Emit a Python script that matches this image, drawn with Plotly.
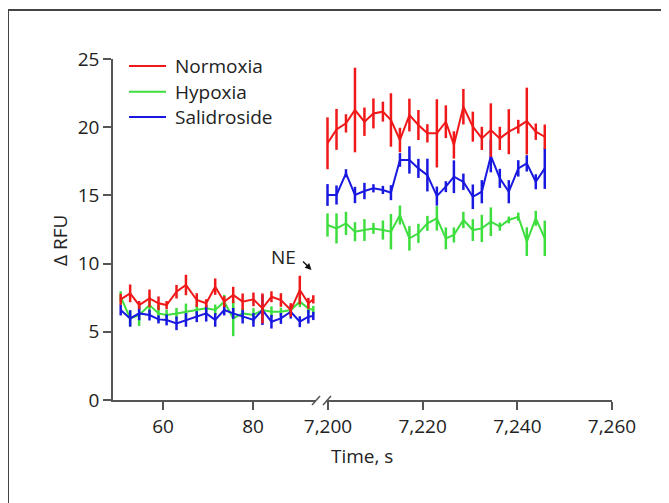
import plotly.graph_objects as go

W, H = 669, 503
OFF = 8  # page body margin

# ---------------- data ----------------
t_early = [50.6, 52.7, 54.7, 57.0, 59.0, 60.8, 63.0, 65.1, 67.5, 69.6, 71.6,
           73.6, 75.6, 77.7, 80.1, 82.1, 84.1, 86.2, 88.4, 90.4, 92.3, 93.4]
t_late = [7199.9, 7201.8, 7203.8, 7205.7, 7207.7, 7209.6, 7211.6, 7213.3, 7215.2,
          7217.2, 7219.1, 7221.0, 7223.0, 7224.9, 7226.6, 7228.6, 7230.6, 7232.5,
          7234.4, 7236.3, 7238.2, 7240.2, 7242.0, 7243.9, 7245.8]

normoxia_early = [7.38, 7.82, 6.96, 7.45, 7.09, 6.96, 7.94, 8.43, 7.33, 7.09, 8.31,
                  7.21, 7.70, 7.21, 7.38, 6.72, 7.57, 7.33, 6.60, 8.06, 7.09, 7.38]
normoxia_early_err = [0.4, 0.65, 0.3, 0.65, 0.5, 0.3, 0.5, 0.75, 0.5, 0.3, 0.6,
                      0.4, 0.6, 0.6, 0.5, 1.1, 0.4, 0.5, 0.5, 1.05, 0.4, 0.3]
hypoxia_early = [7.57, 5.98, 6.23, 6.96, 6.35, 6.23, 6.35, 6.47, 6.60, 6.72, 6.60,
                 7.21, 5.98, 6.35, 6.23, 6.60, 6.47, 6.47, 6.60, 7.21, 6.72, 6.60]
hypoxia_early_err = [0.4, 0.6, 0.8, 0.6, 0.6, 0.4, 0.4, 0.6, 0.4, 0.3, 0.4,
                     0.5, 1.3, 0.4, 0.5, 0.4, 0.4, 0.3, 0.3, 0.4, 0.4, 0.3]
salidroside_early = [6.60, 5.98, 6.35, 6.23, 5.91, 5.87, 5.62, 5.87, 6.11, 6.35, 5.87,
                     6.60, 6.35, 6.11, 5.87, 6.60, 5.74, 5.98, 6.47, 5.74, 6.11, 6.16]
salidroside_early_err = [0.4, 0.6, 0.5, 0.4, 0.3, 0.4, 0.5, 0.5, 0.4, 0.6, 0.5,
                         0.4, 0.4, 0.5, 0.5, 1.1, 0.5, 0.4, 0.5, 0.4, 0.5, 0.3]

normoxia_late = [18.82, 19.84, 20.28, 21.26, 20.40, 21.01, 21.14, 20.53, 19.06, 20.89,
                 20.16, 19.55, 19.55, 20.40, 18.70, 21.50, 20.04, 19.18, 19.79, 19.18,
                 19.67, 20.04, 20.45, 19.67, 19.30]
normoxia_late_err = [1.9, 1.5, 0.67, 3.1, 1.04, 1.1, 0.73, 1.96, 0.9, 1.2, 1.1, 0.67,
                     2.5, 1.2, 1.0, 1.3, 1.1, 0.85, 1.96, 0.85, 1.65, 0.5, 2.45, 0.6, 0.9]
hypoxia_late = [12.83, 12.58, 12.95, 12.34, 12.46, 12.58, 12.46, 12.34, 13.56, 11.85,
                12.22, 12.95, 13.32, 11.85, 12.10, 13.20, 12.46, 12.58, 13.07, 12.71,
                13.20, 13.44, 11.61, 13.32, 11.85]
hypoxia_late_err = [0.85, 1.1, 0.85, 0.7, 0.8, 0.4, 0.7, 1.3, 0.7, 0.9, 0.7, 0.55,
                    0.9, 0.8, 0.55, 0.6, 0.8, 1.0, 1.05, 0.3, 0.25, 0.3, 1.05, 0.55, 1.3]
salidroside_late = [15.03, 15.03, 16.62, 15.03, 15.32, 15.52, 15.40, 15.20, 17.60, 17.60,
                    16.98, 16.49, 14.95, 15.64, 16.37, 16.00, 14.90, 15.27, 17.89, 16.25,
                    15.27, 16.98, 17.35, 16.00, 16.98]
salidroside_late_err = [0.8, 0.7, 0.3, 0.6, 0.6, 0.3, 0.3, 0.55, 0.5, 1.0, 0.7, 1.2,
                        0.7, 0.4, 1.2, 0.6, 0.9, 0.85, 1.2, 0.7, 0.85, 0.6, 0.6, 0.55, 1.5]

series_names = ["Normoxia", "Hypoxia", "Salidroside"]
series_colors = ["#f01818", "#3ede3e", "#1818e0"]

y_ticks = [0, 5, 10, 15, 20, 25]
x_ticks_early = [60, 80]
x_ticks_late = [7200, 7220, 7240, 7260]

FONT = "Open Sans"
FS = 19
TXT = "#222222"
AX = "#555555"


def fx(px):
    return (px - OFF) / W


def fy(py):
    return 1 - (py - OFF) / H


fig = go.Figure()

data = {
    "Normoxia": (normoxia_early, normoxia_early_err, normoxia_late, normoxia_late_err),
    "Hypoxia": (hypoxia_early, hypoxia_early_err, hypoxia_late, hypoxia_late_err),
    "Salidroside": (salidroside_early, salidroside_early_err, salidroside_late, salidroside_late_err),
}
color_of = dict(zip(series_names, series_colors))

# draw order: green, blue, red on top
for name in ["Hypoxia", "Salidroside", "Normoxia"]:
    ye, ee, yl, el = data[name]
    c = color_of[name]
    for xs, ys, es, xa in [(t_early, ye, ee, "x"), (t_late, yl, el, "x2")]:
        fig.add_trace(go.Scatter(
            x=xs, y=ys, mode="lines", name=name, showlegend=False,
            line=dict(color=c, width=2),
            error_y=dict(type="data", array=es, visible=True, color=c,
                         thickness=2.5, width=0),
            xaxis=xa, yaxis="y"))

axis_common = dict(showline=True, linecolor=AX, linewidth=1.5, ticks="outside",
                   ticklen=8, tickwidth=1.5, tickcolor=AX, showgrid=False,
                   zeroline=False, automargin=False,
                   tickfont=dict(family=FONT, size=FS, color=TXT))

fig.update_layout(
    template="none",
    width=W, height=H,
    margin=dict(l=0, r=0, t=0, b=0, pad=0),
    paper_bgcolor="white", plot_bgcolor="white",
    showlegend=False,
    xaxis=dict(domain=[fx(113), fx(316)], range=[48.89, 94.0],
               tickvals=x_ticks_early, anchor="y", **axis_common),
    xaxis2=dict(domain=[fx(326), fx(612)], range=[7199.58, 7260],
                tickvals=x_ticks_late, tickformat=",d", anchor="y", **axis_common),
    yaxis=dict(domain=[fy(400), fy(59)], range=[0, 25], tickvals=y_ticks,
               anchor="x", **axis_common),
)

shapes = []
# outer frame
shapes.append(dict(type="rect", xref="paper", yref="paper",
                   x0=fx(8), y0=fy(10), x1=1.1, y1=-0.1,
                   line=dict(color="#444444", width=2), fillcolor="rgba(0,0,0,0)"))
# axis break marks
for x0, x1 in [(312, 320), (323, 331)]:
    shapes.append(dict(type="line", xref="paper", yref="paper",
                       x0=fx(x0), y0=fy(405), x1=fx(x1), y1=fy(396),
                       line=dict(color=AX, width=1.5)))
# legend line samples
legend_y = [66, 91.7, 117]
for name, yy in zip(series_names, legend_y):
    shapes.append(dict(type="line", xref="paper", yref="paper",
                       x0=fx(129), x1=fx(166), y0=fy(yy), y1=fy(yy),
                       line=dict(color=color_of[name], width=2)))

annotations = []
for name, yy in zip(series_names, legend_y):
    annotations.append(dict(text=name, xref="paper", yref="paper", x=fx(173), y=fy(yy),
                            xanchor="left", yanchor="middle", showarrow=False,
                            font=dict(family=FONT, size=FS, color=TXT)))
annotations.append(dict(text="Δ RFU", xref="paper", yref="paper", x=fx(60), y=fy(240),
                        xanchor="center", yanchor="middle", textangle=-90, showarrow=False,
                        font=dict(family=FONT, size=FS, color=TXT)))
annotations.append(dict(text="Time, s", xref="paper", yref="paper", x=fx(362), y=fy(456),
                        xanchor="center", yanchor="middle", showarrow=False,
                        font=dict(family=FONT, size=FS, color=TXT)))
annotations.append(dict(text="NE", xref="x", yref="y", x=86.7, y=10.45,
                        xanchor="center", yanchor="middle", showarrow=False,
                        font=dict(family=FONT, size=FS, color=TXT)))
annotations.append(dict(text="", xref="x", yref="y", x=93.0, y=9.53, ax=-10, ay=-10,
                        showarrow=True, arrowhead=2, arrowsize=1, arrowwidth=1.3,
                        arrowcolor="#111111"))

fig.update_layout(shapes=shapes, annotations=annotations)

fig.write_html("out.html")
